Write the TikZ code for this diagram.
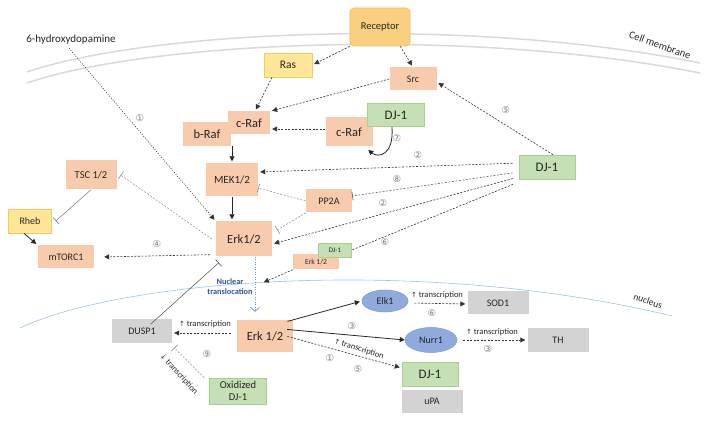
\documentclass[tikz,border=0pt]{standalone}
\usepackage{fontspec}
\setmainfont{Carlito}
\newfontfamily\symf{DejaVu Sans}
\usetikzlibrary{arrows.meta,shapes.geometric}
\definecolor{salmon}{HTML}{F8CBAD}
\definecolor{yelfill}{HTML}{FFE699}
\definecolor{yeldraw}{HTML}{F4C95D}
\definecolor{grnfill}{HTML}{C5E0B4}
\definecolor{grndraw}{HTML}{A9D18E}
\definecolor{gryfill}{HTML}{D3D3D3}
\definecolor{blufill}{HTML}{8FAADC}
\definecolor{bludraw}{HTML}{7A98D0}
\definecolor{recfill}{HTML}{F9D07F}
\definecolor{recdraw}{HTML}{F2BC55}
\definecolor{membr}{HTML}{D9D9D9}
\definecolor{nucl}{HTML}{9DC3E6}
\definecolor{trans}{HTML}{2F5597}
\definecolor{transarr}{HTML}{5B9BD5}
\newcommand\fsz[1]{\fontsize{#1}{#1}\selectfont}
\begin{document}
\begin{tikzpicture}[x=1pt,y=-1pt,
	box/.style={rectangle,inner sep=1pt,text=black!85},
	salm/.style={box,fill=salmon},
	yel/.style={box,fill=yelfill,draw=yeldraw,line width=0.7pt},
	grn/.style={box,fill=grnfill,draw=grndraw,line width=0.7pt},
	gry/.style={box,fill=gryfill},
	elp/.style={ellipse,inner sep=0pt,fill=blufill,draw=bludraw,line width=0.5pt,text=black!85},
	num/.style={font=\symf\fsz{9.5},text=black!50,inner sep=1pt},
	lbl/.style={font=\fsz{8.5},text=black!85,inner sep=1pt},
	act/.style={draw=black!80,line width=0.6pt,dash pattern=on 2pt off 1.5pt,-{Triangle[length=5pt,width=5pt]},shorten >=2pt},
	sact/.style={draw=black!85,line width=0.8pt,-{Triangle[length=5pt,width=5pt]},shorten >=2pt},
	inh/.style={draw=black!45,line width=0.5pt,dash pattern=on 2pt off 1.5pt,-{Bar[width=9pt,line width=0.6pt]}},
	gap/.style={shorten <=6pt}]
	\useasboundingbox (0,0) rectangle (710,422);
	\draw[membr,line width=1.5pt] (27,72) .. controls (150,30) and (470,16) .. (700,63);
	\draw[membr,line width=1.5pt] (27,83) .. controls (150,41) and (470,27) .. (700,73);
	\draw[nucl,line width=0.6pt] (20,328) .. controls (120,280) and (420,255) .. (672,316);
	\node[rotate=-20,font=\fsz{10.5},text=black!85] (memtxt) at (660,45) {Cell membrane};
	\node[rotate=-20,font=\fsz{9.5},text=black!85] (nuctxt) at (648,301) {nucleus};
	\node[font=\fsz{11},text=black!85] (hyd) at (71,40) {6-hydroxydopamine};
	\node[box,rounded corners=4pt,fill=recfill,draw=recdraw,line width=0.7pt,minimum width=60pt,minimum height=38pt,font=\fsz{10.5}] (rec) at (380,27) {Receptor};
	\node[yel,minimum width=48pt,minimum height=24pt,font=\fsz{11.5}] (ras) at (288,65) {Ras};
	\node[salm,minimum width=47pt,minimum height=23pt,font=\fsz{10}] (src) at (413,79) {Src};
	\node[salm,minimum width=42pt,minimum height=23pt,font=\fsz{12.5}] (craf) at (249,123) {c-Raf};
	\node[salm,minimum width=48pt,minimum height=24pt,font=\fsz{12.5}] (braf) at (207,134) {b-Raf};
	\node[salm,minimum width=47pt,minimum height=29pt,font=\fsz{12.5}] (craf2) at (349,132) {c-Raf};
	\node[grn,minimum width=57pt,minimum height=23pt,font=\fsz{13}] (dja) at (396,115) {DJ-1};
	\node[salm,minimum width=52pt,minimum height=33pt,font=\fsz{11}] (mek) at (232,180) {MEK1/2};
	\node[salm,minimum width=46pt,minimum height=23pt,font=\fsz{10}] (pp2a) at (329,201) {PP2A};
	\node[salm,minimum width=56pt,minimum height=35pt,font=\fsz{12.5}] (erk) at (244,239) {Erk1/2};
	\node[salm,minimum width=46pt,minimum height=15pt,font=\fsz{7.5}] (erks) at (316,262) {Erk 1/2};
	\node[grn,minimum width=33pt,minimum height=14pt,font=\fsz{7}] (djs) at (335,250) {DJ-1};
	\node[grn,minimum width=56pt,minimum height=24pt,font=\fsz{13}] (djr) at (547,167) {DJ-1};
	\node[salm,minimum width=51pt,minimum height=29pt,font=\fsz{10.5}] (tsc) at (91,175) {TSC 1/2};
	\node[yel,minimum width=43pt,minimum height=24pt,font=\fsz{10}] (rheb) at (30,221) {Rheb};
	\node[salm,minimum width=56pt,minimum height=23pt,font=\fsz{10}] (mtor) at (66,257) {mTORC1};
	\node[salm,minimum width=56pt,minimum height=32pt,font=\fsz{12.5}] (erkn) at (265,336) {Erk 1/2};
	\node[gry,minimum width=60pt,minimum height=23pt,font=\fsz{10}] (dusp) at (142,331) {DUSP1};
	\node[elp,minimum width=46pt,minimum height=22pt,font=\fsz{10}] (elk) at (385,301) {Elk1};
	\node[gry,minimum width=61pt,minimum height=23pt,font=\fsz{10}] (sod) at (498,303) {SOD1};
	\node[elp,minimum width=52pt,minimum height=25pt,font=\fsz{10}] (nurr) at (431,340) {Nurr1};
	\node[gry,minimum width=61pt,minimum height=24pt,font=\fsz{10}] (th) at (558,340) {TH};
	\node[grn,minimum width=56pt,minimum height=24pt,font=\fsz{13}] (djn) at (430,374) {DJ-1};
	\node[gry,minimum width=61pt,minimum height=23pt,font=\fsz{10}] (upa) at (432,401) {uPA};
	\node[grn,minimum width=57pt,minimum height=26pt,align=center,font=\fontsize{10.5}{12}\selectfont] (oxd) at (238,391) {Oxidized\\DJ-1};
	\node[align=center,text=trans,font=\bfseries\fontsize{8.3}{10}\selectfont] (ntxt) at (230,287) {Nuclear\\translocation};
	\coordinate (ntr) at (262,283);
	\draw[act] (rec.south west) -- (ras.east);
	\draw[act] ([xshift=-10pt]rec.south east) -- (src.north);
	\draw[act] ([xshift=-16pt]ras.south) -- ([xshift=6pt]craf.north);
	\draw[act] (src.west) -- (craf.north east);
	\draw[act] ([yshift=3pt]craf2.west) -- ([yshift=-6pt]craf.east);
	\draw[act] ([xshift=6pt]djr.north) -- ([yshift=-3pt]src.east);
	\draw[sact] ([xshift=-4pt]dja.south) .. controls (394,156) and (378,158) .. ([xshift=-6pt,yshift=-2pt]craf2.south east);
	\draw[sact] (mek.north |- braf.south) -- (mek.north);
	\draw[sact] (mek.south) -- (mek.south |- erk.north);
	\draw[act,dash pattern=on 1pt off 1.5pt] ([xshift=-2pt]hyd.south) -- (erk.north west);
	\draw[act,gap] ([yshift=4pt]djr.west) -- ([yshift=8pt]mek.east);
	\draw[inh,draw=black!70,gap] ([yshift=-5pt]djr.west) -- ([yshift=5pt]pp2a.east);
	\draw[inh] (pp2a.west) -- ([yshift=-8pt]mek.east);
	\draw[inh] (pp2a.south west) -- ([xshift=5pt,yshift=9pt]erk.east);
	\draw[act,gap] ([yshift=-10pt]djr.west) -- ([yshift=-5pt]erk.east);
	\draw[draw=black!80,line width=0.6pt,dash pattern=on 2pt off 1.5pt,gap] ([yshift=-15pt]djr.west) -- (djs.east);
	\draw[act] (erks.south west) -- (ntr);
	\draw[inh] ([xshift=-4pt]erk.west) -- ([xshift=4pt]tsc.east);
	\draw[draw=black!55,line width=0.5pt,-{Bar[width=9pt,line width=0.6pt]}] (tsc.south) -- ([xshift=4pt]rheb.east);
	\draw[sact] ([xshift=-6pt]rheb.south) -- (mtor.north west);
	\draw[act] ([xshift=-6pt,yshift=2pt]erk.south west) -- ([xshift=8pt]mtor.east);
	\draw[draw=black!70,line width=0.5pt,-{Bar[width=9pt,line width=0.6pt]},shorten <=-7pt] ([xshift=14pt]dusp.north) -- ([xshift=3pt,yshift=-6pt]erk.south west);
	\draw[transarr,line width=0.7pt,dash pattern=on 1pt off 1.5pt,-{Straight Barb[length=4pt,width=9pt]},shorten >=8pt] ([xshift=11pt]erk.south) -- ([xshift=-10pt]erkn.north);
	\draw[act,gap] ([yshift=3pt]erkn.west) -- ([yshift=-2pt]dusp.east);
	\draw[inh] ([xshift=-5pt]oxd.north west) -- ([xshift=2pt,yshift=-5pt]dusp.south east);
	\draw[sact,shorten <=-6pt] (erkn.north east) -- (elk.west);
	\draw[draw=black!85,line width=0.8pt,-{Triangle[length=5pt,width=5pt]},shorten <=-6pt] ([yshift=6pt]erkn.east) -- (nurr.west);
	\draw[act,shorten <=-6pt] ([yshift=-2pt]erkn.east) -- ([yshift=6pt]djn.west);
	\draw[act,gap] ([yshift=-2pt]elk.east) -- ([yshift=-1pt]sod.west);
	\draw[act,gap] (nurr.east) -- (th.west);
	\node[num] (n1a) at (140,118) {①};
	\node[num] (n5a) at (506,110) {⑤};
	\node[num] (n7) at (397,138) {⑦};
	\node[num] (n2a) at (418,155) {②};
	\node[num] (n8) at (397,179) {⑧};
	\node[num] (n2b) at (383,203) {②};
	\node[num] (n6a) at (385,242) {⑥};
	\node[num] (n4) at (157,244) {④};
	\node[num] (n9) at (207,354) {⑨};
	\node[num] (n3a) at (352,326) {③};
	\node[num] (n1b) at (330,358) {①};
	\node[num] (n5b) at (358,369) {⑤};
	\node[num] (n6b) at (432,313) {⑥};
	\node[num] (n3b) at (488,349) {③};
	\node[lbl] (tr1) at (205,324) {{\symf\fsz{7}↑} transcription};
	\node[lbl] (tr2) at (437,295) {{\symf\fsz{7}↑} transcription};
	\node[lbl] (tr3) at (492,332) {{\symf\fsz{7}↑} transcription};
	\node[lbl,rotate=-18] (tr4) at (359,349) {{\symf\fsz{7}↑} transcription};
	\node[lbl,rotate=-48] (tr5) at (179,374) {{\symf\fsz{7}↓} transcription};
\end{tikzpicture}
\end{document}
